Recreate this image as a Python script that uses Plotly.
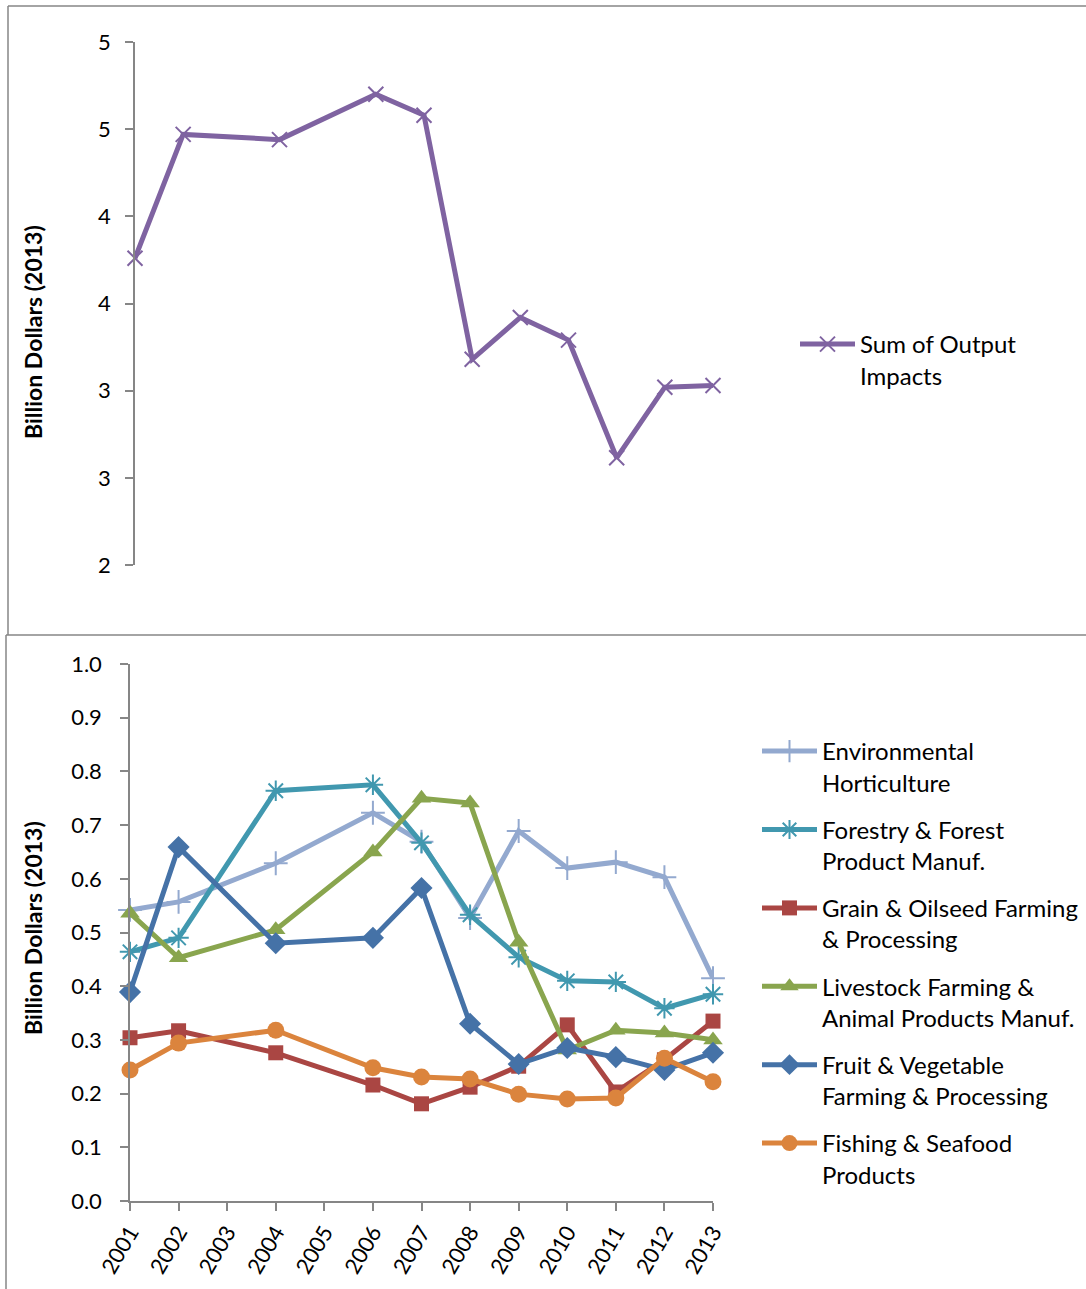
import plotly.graph_objects as go

W, H = 1086, 1289

# Years with observations (2003 and 2005 have no data; lines connect across them)
years = [2001, 2002, 2004, 2006, 2007, 2008, 2009, 2010, 2011, 2012, 2013]

# Top panel: total output impacts, billion dollars (2013)
sum_output = [3.76, 4.47, 4.44, 4.70, 4.58, 3.18, 3.42, 3.29, 2.615, 3.02, 3.03]
top_tickvals = [2.0, 2.5, 3.0, 3.5, 4.0, 4.5, 5.0]
top_ticktext = ["2", "3", "3", "4", "4", "5", "5"]

# Bottom panel: output impacts by sector, billion dollars (2013)
env_hort = [0.542, 0.557, 0.629, 0.723, 0.669, 0.527, 0.689, 0.620, 0.631, 0.603, 0.415]
forestry = [0.464, 0.490, 0.764, 0.775, 0.667, 0.533, 0.454, 0.410, 0.408, 0.359, 0.385]
grain = [0.304, 0.317, 0.276, 0.216, 0.181, 0.212, 0.251, 0.328, 0.203, 0.263, 0.335]
livestock = [0.536, 0.453, 0.505, 0.650, 0.750, 0.741, 0.482, 0.281, 0.318, 0.313, 0.300]
fruit_veg = [0.389, 0.659, 0.480, 0.490, 0.583, 0.330, 0.255, 0.285, 0.268, 0.244, 0.276]
fishing = [0.244, 0.294, 0.318, 0.248, 0.231, 0.227, 0.199, 0.190, 0.192, 0.266, 0.222]

FONT = "Lato"
AXIS_GREY = "#868686"


def px_x(p):
    return p / W


def px_y(p):
    return 1 - p / H


fig = go.Figure()

fig.add_trace(go.Scatter(
    x=years, y=sum_output, name="Sum of Output<br>Impacts",
    mode="lines+markers", xaxis="x", yaxis="y", legend="legend",
    line=dict(color="#7F63A1", width=5),
    marker=dict(symbol="x-thin", size=15, color="#7F63A1",
                line=dict(color="#7F63A1", width=2)),
    cliponaxis=False,
))

series = [
    ("Environmental<br>Horticulture", env_hort, "#93A9CF", "cross-thin", 17),
    ("Forestry & Forest<br>Product Manuf.", forestry, "#4198AF", "asterisk", 17),
    ("Grain & Oilseed Farming<br>& Processing", grain, "#AA4643", "square", 15),
    ("Livestock Farming &<br>Animal Products Manuf.", livestock, "#89A54E", "triangle-up", 17),
    ("Fruit & Vegetable<br>Farming & Processing", fruit_veg, "#4572A7", "diamond", 17),
    ("Fishing & Seafood<br>Products", fishing, "#DB843D", "circle", 17),
]

for i, (name, vals, color, sym, size) in enumerate(series):
    thin = sym in ("cross-thin", "asterisk")
    fig.add_trace(go.Scatter(
        x=years, y=vals, name=name,
        mode="lines+markers", xaxis="x2", yaxis="y2", legend="legend2",
        legendgroup=f"g{i}",
        line=dict(color=color, width=5),
        marker=dict(symbol=sym, size=size, color=color,
                    line=dict(color=color, width=2 if thin else 0)),
        cliponaxis=False,
    ))

tick_font = dict(family=FONT, size=22, color="black")
legend_font = dict(family=FONT, size=24, color="black")

fig.update_layout(
    width=W, height=H,
    margin=dict(l=0, r=0, t=0, b=0, autoexpand=False),
    paper_bgcolor="white", plot_bgcolor="white",
    font=dict(family=FONT, color="black"),
    xaxis=dict(
        domain=[px_x(135), px_x(713)], range=[2001, 2013],
        visible=False, anchor="y",
    ),
    yaxis=dict(
        domain=[px_y(565), px_y(42)], range=[2, 5], anchor="x",
        tickmode="array", tickvals=top_tickvals, ticktext=top_ticktext,
        showline=True, linecolor=AXIS_GREY, linewidth=1.5,
        ticks="outside", ticklen=8, tickcolor=AXIS_GREY, tickwidth=1.5,
        showgrid=False, zeroline=False, tickfont=tick_font,
        ticklabelstandoff=10,
    ),
    xaxis2=dict(
        domain=[px_x(130), px_x(713)], range=[2001, 2013], anchor="y2",
        tickmode="linear", tick0=2001, dtick=1, tickangle=-60,
        showline=True, linecolor=AXIS_GREY, linewidth=1.5,
        ticks="outside", ticklen=8, tickcolor=AXIS_GREY, tickwidth=1.5,
        showgrid=False, zeroline=False, tickfont=tick_font,
    ),
    yaxis2=dict(
        domain=[px_y(1201), px_y(664)], range=[0, 1], anchor="x2",
        tickmode="linear", tick0=0, dtick=0.1, tickformat=".1f",
        showline=True, linecolor=AXIS_GREY, linewidth=1.5,
        ticks="outside", ticklen=8, tickcolor=AXIS_GREY, tickwidth=1.5,
        showgrid=False, zeroline=False, tickfont=tick_font,
        ticklabelstandoff=14,
    ),
    legend=dict(
        x=px_x(795), y=px_y(322), xanchor="left", yanchor="top",
        font=legend_font, valign="top", bgcolor="rgba(0,0,0,0)",
        itemwidth=55,
    ),
    legend2=dict(
        x=px_x(757), y=px_y(729), xanchor="left", yanchor="top",
        font=legend_font, valign="top", bgcolor="rgba(0,0,0,0)",
        tracegroupgap=13, itemwidth=55,
    ),
    showlegend=True,
)

# Axis titles
for yc in (332, 928):
    fig.add_annotation(
        text="<b>Billion Dollars (2013)</b>", textangle=-90,
        x=px_x(33), y=px_y(yc), xref="paper", yref="paper",
        xanchor="center", yanchor="middle",
        showarrow=False, font=dict(family=FONT, size=23, color="black"),
    )

# Chart frames
frame = dict(type="line", xref="paper", yref="paper",
             line=dict(color=AXIS_GREY, width=1.5))
fig.add_shape(**frame, x0=px_x(8), y0=px_y(6), x1=px_x(1100), y1=px_y(6))
fig.add_shape(**frame, x0=px_x(8), y0=px_y(6), x1=px_x(8), y1=px_y(635))
fig.add_shape(**frame, x0=px_x(6), y0=px_y(635), x1=px_x(1100), y1=px_y(635))
fig.add_shape(**frame, x0=px_x(6), y0=px_y(635), x1=px_x(6), y1=px_y(1300))

fig.write_html("out.html")
